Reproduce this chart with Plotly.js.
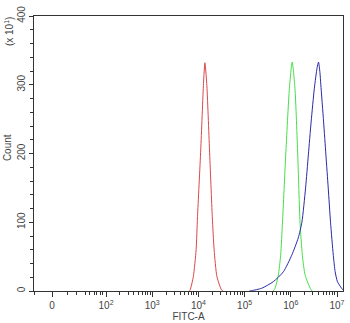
<!DOCTYPE html>
<html>
<head>
<meta charset="utf-8">
<script src="https://cdn.plot.ly/plotly-3.0.1.min.js"></script>
<style>html,body{margin:0;padding:0;background:#fff;}#chart{width:350px;height:323px;}</style>
</head>
<body>
<div id="chart"></div>
<script>
// x values are in display (decade) units of the biexponential FITC-A axis; y is Count (x10^1)
var redX   = [3.80, 3.82, 3.89, 3.95, 3.98, 4.05, 4.11, 4.14, 4.18, 4.24, 4.30, 4.34, 4.40, 4.50, 4.53];
var redY   = [0, 1.5, 21, 60, 108, 205, 302, 332, 302, 205, 108, 60, 21, 1.5, 0];

var greenX = [5.62, 5.66, 5.73, 5.78, 5.82, 5.89, 5.97, 6.03, 6.09, 6.15, 6.20, 6.25, 6.31, 6.42, 6.46];
var greenY = [0, 4, 23, 52, 100, 198, 295, 333, 295, 198, 100, 52, 23, 4, 0];

var blueX  = [5.10, 5.15, 5.37, 5.62, 5.84, 6.02, 6.16, 6.24, 6.32, 6.38, 6.44, 6.51, 6.57, 6.60, 6.63, 6.65, 6.71, 6.76, 6.81, 6.86, 6.92, 6.96, 7.01, 7.10, 7.15];
var blueY  = [0, 0.5, 4, 13.5, 28, 52, 77, 100, 150, 198, 246, 295, 325, 333, 318, 300, 246, 198, 150, 100, 52, 28, 13.5, 4, 0.5];

var majorTickVals = [0.83, 2, 3, 4, 5, 6, 7];
var majorTickText = ['0', '10<sup>2</sup>', '10<sup>3</sup>', '10<sup>4</sup>', '10<sup>5</sup>', '10<sup>6</sup>', '10<sup>7</sup>'];
var linearMinorVals = [0.45, 1.17, 1.37, 1.55, 1.65, 1.74, 1.80, 1.87, 1.93];

var yTickVals = [0, 100, 200, 300, 400];

var minorVals = linearMinorVals.slice();
for (var n = 2; n <= 6; n++) {
  for (var k = 2; k <= 9; k++) minorVals.push(n + Math.log10(k));
}

var font = {family: 'Liberation Sans, Arial, sans-serif', size: 10, color: '#444'};

var traces = [
  {x: redX, y: redY, type: 'scatter', mode: 'lines', line: {color: '#d8484c', width: 1, shape: 'spline', smoothing: 0.6}, hoverinfo: 'skip'},
  {x: greenX, y: greenY, type: 'scatter', mode: 'lines', line: {color: '#44e046', width: 1, shape: 'spline', smoothing: 0.6}, hoverinfo: 'skip'},
  {x: blueX, y: blueY, type: 'scatter', mode: 'lines', line: {color: '#2a2aa8', width: 1, shape: 'spline', smoothing: 0.6}, hoverinfo: 'skip'}
];

var layout = {
  width: 350, height: 323,
  margin: {l: 34, r: 7, t: 16, b: 32},
  paper_bgcolor: '#fff', plot_bgcolor: '#fff',
  showlegend: false,
  font: font,
  xaxis: {
    range: [0.44, 7.13],
    tickmode: 'array', tickvals: majorTickVals, ticktext: majorTickText,
    ticks: 'outside', ticklen: 5, tickwidth: 1, tickcolor: '#333',
    minor: {tickmode: 'array', tickvals: minorVals, ticks: 'outside', ticklen: 3, tickwidth: 1, tickcolor: '#333', showgrid: false},
    showline: true, linecolor: '#333', linewidth: 1, mirror: true,
    showgrid: false, zeroline: false,
    tickfont: font,
    title: {text: 'FITC-A', font: font, standoff: 2}
  },
  yaxis: {
    range: [0, 400],
    tickmode: 'array', tickvals: yTickVals,
    ticks: 'outside', ticklen: 4, tickwidth: 1, tickcolor: '#333',
    minor: {dtick: 20, ticks: 'outside', ticklen: 3, tickwidth: 1, tickcolor: '#333', showgrid: false},
    tickangle: -90,
    showline: true, linecolor: '#333', linewidth: 1, mirror: true,
    showgrid: false, zeroline: false,
    tickfont: font
  },
  annotations: [
    {text: 'Count', textangle: -90, xref: 'paper', yref: 'paper', x: -0.087, y: 0.52, xanchor: 'center', yanchor: 'middle', showarrow: false, font: font},
    {text: '(x 10<sup>1</sup>)', textangle: -90, xref: 'paper', yref: 'paper', x: -0.081, y: 0.945, xanchor: 'center', yanchor: 'middle', showarrow: false, font: font}
  ]
};

Plotly.newPlot('chart', traces, layout, {staticPlot: true, displayModeBar: false});
</script>
</body>
</html>
